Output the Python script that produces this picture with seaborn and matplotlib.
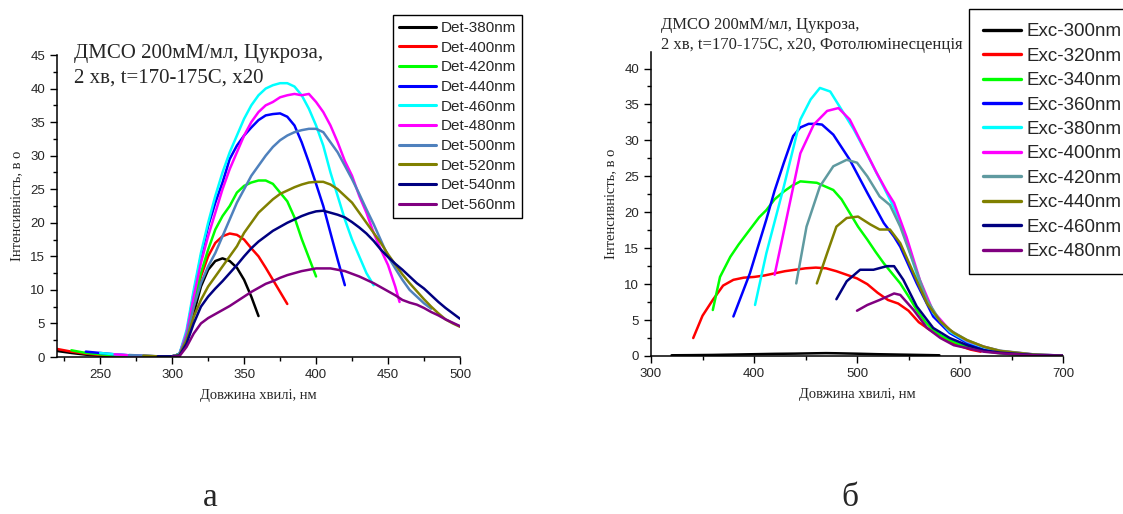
import seaborn as sns
import pandas as pd
import matplotlib.pyplot as plt
from matplotlib.lines import Line2D
from matplotlib.ticker import MultipleLocator

# ---- panel a: detection spectra ----
det_labels = ["Det-380nm", "Det-400nm", "Det-420nm", "Det-440nm", "Det-460nm",
              "Det-480nm", "Det-500nm", "Det-520nm", "Det-540nm", "Det-560nm"]
det_colors = ["#000000", "#ff0000", "#00ff00", "#0000ff", "#00ffff",
              "#ff00ff", "#4f81bd", "#808000", "#000080", "#800080"]

det380_x = [220, 230, 240, 250, 260, 270, 280, 290, 300, 305, 310, 315, 320, 325, 330, 335, 340, 345, 350, 355, 360]
det380_y = [0.9, 0.6, 0.35, 0.2, 0.1, 0.05, 0.05, 0.05, 0.1, 0.4, 2.5, 6.5, 10.5, 13, 14.3, 14.7, 14.3, 13.3, 11.5, 9, 6.1]

det400_x = [220, 230, 240, 250, 260, 270, 280, 290, 300, 305, 310, 315, 320, 325, 330, 335, 340, 345, 350, 355,
            360, 365, 370, 375, 380]
det400_y = [1.2, 0.8, 0.5, 0.3, 0.2, 0.1, 0.1, 0.1, 0.1, 0.4, 3, 7.5, 12, 15, 17, 18, 18.4, 18.2, 17.5, 16.2,
            15, 13.3, 11.5, 9.7, 7.9]

det420_x = [230, 240, 250, 260, 270, 280, 290, 300, 305, 310, 315, 320, 325, 330, 335, 340, 345, 350, 355, 360,
            365, 370, 375, 380, 385, 390, 395, 400]
det420_y = [1.0, 0.6, 0.4, 0.25, 0.15, 0.1, 0.1, 0.1, 0.4, 3, 8, 12.5, 16, 19, 21, 22.5, 24.5, 25.5, 26, 26.3,
            26.3, 25.8, 24.5, 23.2, 20.8, 17.6, 14.8, 12]

det440_x = [240, 250, 260, 270, 280, 290, 300, 305, 310, 315, 320, 325, 330, 335, 340, 345, 350, 355, 360, 365,
            370, 375, 380, 385, 390, 395, 400, 405, 410, 415, 420]
det440_y = [0.8, 0.6, 0.4, 0.25, 0.15, 0.1, 0.1, 0.4, 3.5, 9.5, 15, 19.5, 23, 26, 29.5, 31.5, 33, 34.2, 35.3, 36,
            36.2, 36.3, 35.8, 34.5, 32, 29, 25.8, 22.5, 18.5, 14.5, 10.7]

det460_x = [250, 260, 270, 280, 290, 300, 305, 310, 315, 320, 325, 330, 335, 340, 345, 350, 355, 360, 365, 370,
            375, 380, 385, 390, 395, 400, 405, 410, 415, 420, 425, 430, 435, 440]
det460_y = [0.6, 0.4, 0.25, 0.15, 0.1, 0.1, 0.4, 4, 10, 15.5, 20, 24, 27.5, 30.5, 33, 35.5, 37.5, 39, 40, 40.5,
            40.8, 40.8, 40.3, 39, 37, 34.5, 31.5, 27.5, 24, 20.5, 17.5, 15, 12.5, 10.7]

det480_x = [260, 270, 280, 290, 300, 305, 310, 315, 320, 325, 330, 335, 340, 345, 350, 355, 360, 365, 370, 375,
            380, 385, 390, 395, 400, 405, 410, 415, 420, 425, 430, 435, 440, 445, 450, 455, 458]
det480_y = [0.4, 0.25, 0.15, 0.1, 0.1, 0.3, 3.5, 9, 14, 18, 21.5, 25, 28, 30.5, 33, 35, 36.5, 37.5, 38, 38.7,
            39, 39.2, 39, 39.2, 38, 36.5, 34.5, 32, 29.2, 27, 24, 21.5, 18.5, 16, 13.7, 10.5, 8.2]

det500_x = [270, 280, 290, 300, 305, 310, 315, 320, 325, 330, 335, 340, 345, 350, 355, 360, 365, 370, 375, 380,
            385, 390, 395, 400, 405, 410, 415, 420, 425, 430, 435, 440, 445, 450, 455, 460, 465, 470, 475, 480]
det500_y = [0.3, 0.2, 0.1, 0.1, 0.3, 3, 7.5, 11, 13.5, 15.5, 18, 20.5, 23, 25, 27, 28.5, 30, 31.3, 32.3, 33,
            33.5, 33.8, 34, 34, 33.5, 32, 30.5, 28.5, 26.5, 24.3, 22, 19.8, 17.4, 15, 13.2, 11.5, 10, 9, 8, 7.2]

det520_x = [280, 290, 300, 305, 310, 315, 320, 325, 330, 335, 340, 345, 350, 355, 360, 365, 370, 375, 380, 385,
            390, 395, 400, 405, 410, 415, 420, 425, 430, 435, 440, 445, 450, 455, 460, 465, 470, 475, 480, 485,
            490, 495, 500]
det520_y = [0.2, 0.1, 0.1, 0.3, 2.5, 6, 8.5, 10.5, 12, 13.5, 15, 16.5, 18.5, 20, 21.5, 22.5, 23.5, 24.3, 24.8, 25.3,
            25.7, 26, 26.1, 26.1, 25.7, 25, 24, 23, 21.5, 20, 18.5, 17, 15.3, 13.8, 12.3, 11, 9.8, 8.6, 7.5, 6.5,
            5.6, 5, 4.5]

det540_x = [290, 300, 305, 310, 315, 320, 325, 330, 335, 340, 345, 350, 355, 360, 365, 370, 375, 380, 385, 390,
            395, 400, 405, 410, 415, 420, 425, 430, 435, 440, 445, 450, 455, 460, 465, 470, 475, 480, 485, 490,
            495, 500]
det540_y = [0.1, 0.1, 0.2, 2, 5, 7.5, 9, 10.2, 11.3, 12.5, 13.7, 15, 16.2, 17.2, 18, 18.8, 19.4, 20, 20.5, 21,
            21.4, 21.7, 21.8, 21.5, 21.2, 20.8, 20.1, 19.3, 18.4, 17.3, 16, 14.9, 13.9, 13, 12, 11, 10.2, 9.2, 8.2, 7.3,
            6.5, 5.7]

det560_x = [300, 305, 310, 315, 320, 325, 330, 335, 340, 345, 350, 355, 360, 365, 370, 375, 380, 385, 390, 395,
            400, 405, 410, 415, 420, 425, 430, 435, 440, 445, 450, 455, 460, 465, 470, 475, 480, 485, 490, 495, 500]
det560_y = [0.05, 0.1, 1.5, 3.5, 5, 5.8, 6.4, 7, 7.6, 8.3, 9, 9.7, 10.3, 10.9, 11.3, 11.8, 12.2, 12.5, 12.8, 13,
            13.2, 13.2, 13.2, 13, 12.8, 12.4, 12, 11.5, 11, 10.4, 9.8, 9.2, 8.5, 8.1, 7.8, 7.3, 6.7, 6.2, 5.6, 5.1, 4.6]

det_x = [det380_x, det400_x, det420_x, det440_x, det460_x, det480_x, det500_x, det520_x, det540_x, det560_x]
det_y = [det380_y, det400_y, det420_y, det440_y, det460_y, det480_y, det500_y, det520_y, det540_y, det560_y]

# ---- panel б: excitation spectra ----
exc_labels = ["Exc-300nm", "Exc-320nm", "Exc-340nm", "Exc-360nm", "Exc-380nm",
              "Exc-400nm", "Exc-420nm", "Exc-440nm", "Exc-460nm", "Exc-480nm"]
exc_colors = ["#000000", "#ff0000", "#00ff00", "#0000ff", "#00ffff",
              "#ff00ff", "#5f9aa0", "#808000", "#000080", "#800080"]

exc300_x = [320, 340, 360, 380, 400, 420, 440, 460, 470, 480, 500, 520, 540, 560, 580]
exc300_y = [0.1, 0.12, 0.15, 0.2, 0.25, 0.3, 0.33, 0.38, 0.4, 0.38, 0.32, 0.25, 0.2, 0.15, 0.1]

exc320_x = [341, 350, 360, 370, 380, 390, 400, 410, 420, 430, 440, 450, 460, 470, 480, 490, 500, 510, 520, 530,
            540, 550, 560, 570, 580, 590, 600, 610, 620]
exc320_y = [2.5, 5.6, 7.8, 9.8, 10.6, 10.9, 11, 11.2, 11.5, 11.8, 12, 12.2, 12.3, 12.2, 11.8, 11.3, 10.8, 10, 8.8, 7.8,
            7.3, 6.3, 4.7, 3.7, 2.8, 2, 1.4, 0.9, 0.6]

exc340_x = [360, 367, 377, 385, 396, 405, 412, 420, 429, 437, 445, 453, 461, 469, 477, 485, 493, 501, 510, 518,
            526, 534, 542, 550, 558, 566, 574, 582, 590, 600, 607, 615, 623, 639, 655, 671, 700]
exc340_y = [6.4, 11, 13.8, 15.5, 17.6, 19.3, 20.3, 21.8, 22.9, 23.7, 24.3, 24.2, 24.1, 23.6, 23.1, 21.8, 19.9, 18, 16.2, 14.5,
            12.9, 11.5, 10.1, 8.3, 6.4, 4.8, 3.6, 2.8, 2.2, 1.6, 1.3, 1.0, 0.7, 0.37, 0.2, 0.1, 0.03]

exc360_x = [380, 396, 412, 420, 429, 438, 445, 453, 460, 466, 477, 493, 510, 526, 536, 542, 558, 574, 590, 607,
            623, 639, 671, 700]
exc360_y = [5.5, 11.5, 19, 23, 26.9, 30.6, 31.8, 32.3, 32.3, 32.2, 30.8, 27.3, 22.7, 18.5, 16.6, 15.2, 10.1, 5.5, 3.2, 1.8,
            0.9, 0.46, 0.14, 0.05]

exc380_x = [401, 412, 429, 445, 455, 464, 474, 484, 497, 510, 526, 536, 548, 561, 574, 590, 607, 623, 639, 671, 700]
exc380_y = [7.1, 14.3, 23.6, 32.9, 35.7, 37.3, 36.8, 34.5, 31.5, 28, 23.5, 20.6, 16, 10, 6, 3.4, 2, 1.2, 0.6, 0.2, 0.05]

exc400_x = [420, 432, 445, 458, 471, 482, 493, 506, 519, 529, 536, 548, 561, 574, 590, 607, 623, 639, 671, 700]
exc400_y = [11.3, 19.4, 28.2, 32.2, 34.1, 34.5, 32.9, 29.2, 25.5, 22.9, 21.3, 16.6, 10.6, 6.2, 3.6, 2.1, 1.3, 0.7, 0.23, 0.05]

exc420_x = [441, 451, 464, 477, 490, 500, 510, 522, 532, 542, 555, 568, 581, 590, 607, 623, 639, 671, 700]
exc420_y = [10.1, 18, 23.6, 26.4, 27.3, 26.9, 25, 22.2, 21, 18, 12.9, 7.8, 4.8, 3.6, 2.2, 1.3, 0.74, 0.23, 0.05]

exc440_x = [461, 471, 480, 490, 501, 513, 522, 532, 542, 555, 568, 581, 594, 607, 623, 639, 671, 700]
exc440_y = [10.1, 14.3, 18, 19.2, 19.4, 18.3, 17.6, 17.6, 15.7, 11.5, 7.3, 4.8, 3.2, 2.2, 1.3, 0.7, 0.2, 0.05]

exc460_x = [480, 490, 503, 516, 529, 536, 545, 558, 574, 590, 607, 623, 639, 671, 700]
exc460_y = [7.9, 10.4, 12, 12, 12.5, 12.5, 10.6, 6.9, 3.9, 2.5, 1.5, 0.8, 0.46, 0.14, 0.04]

exc480_x = [500, 510, 522, 536, 542, 555, 568, 581, 594, 607, 623, 639, 671, 700]
exc480_y = [6.3, 7.1, 7.8, 8.7, 8.5, 6.4, 3.9, 2.5, 1.5, 1.1, 0.6, 0.37, 0.1, 0.03]

exc_x = [exc300_x, exc320_x, exc340_x, exc360_x, exc380_x, exc400_x, exc420_x, exc440_x, exc460_x, exc480_x]
exc_y = [exc300_y, exc320_y, exc340_y, exc360_y, exc380_y, exc400_y, exc420_y, exc440_y, exc460_y, exc480_y]


def to_frame(labels, xs, ys):
    rows = []
    for lab, xx, yy in zip(labels, xs, ys):
        for a, b in zip(xx, yy):
            rows.append((lab, a, b))
    return pd.DataFrame(rows, columns=["series", "wl", "val"])


sns.set_style("ticks")
plt.rcParams["font.family"] = ["Liberation Sans", "DejaVu Sans"]
SERIF = ["Liberation Serif", "DejaVu Serif"]

fig = plt.figure(figsize=(11.23, 5.14), dpi=100)
ax1 = fig.add_axes([57 / 1123, 1 - 357 / 514, 403 / 1123, 302 / 514])
ax2 = fig.add_axes([651 / 1123, 1 - 356 / 514, 412 / 1123, 304 / 514])

df_a = to_frame(det_labels, det_x, det_y)
df_b = to_frame(exc_labels, exc_x, exc_y)

sns.lineplot(data=df_a, x="wl", y="val", hue="series", hue_order=det_labels,
             palette=det_colors, estimator=None, sort=False, lw=1.8, legend=False, ax=ax1)
sns.lineplot(data=df_b, x="wl", y="val", hue="series", hue_order=exc_labels,
             palette=exc_colors, estimator=None, sort=False, lw=1.8, legend=False, ax=ax2)

ax1.set_xlim(220, 500)
ax1.set_ylim(0, 45)
ax1.xaxis.set_major_locator(MultipleLocator(50))
ax1.xaxis.set_minor_locator(MultipleLocator(25))
ax1.yaxis.set_major_locator(MultipleLocator(5))
ax1.yaxis.set_minor_locator(MultipleLocator(2.5))

ax2.set_xlim(300, 700)
ax2.set_ylim(0, 42.3)
ax2.xaxis.set_major_locator(MultipleLocator(100))
ax2.xaxis.set_minor_locator(MultipleLocator(50))
ax2.yaxis.set_major_locator(MultipleLocator(5))
ax2.yaxis.set_minor_locator(MultipleLocator(2.5))

for ax in (ax1, ax2):
    sns.despine(ax=ax)
    for s in ("left", "bottom"):
        ax.spines[s].set_linewidth(1.1)
        ax.spines[s].set_color("black")
    ax.tick_params(which="major", direction="out", length=5, width=1, labelsize=9.5, color="black")
    ax.tick_params(which="minor", direction="out", length=3, width=1, color="black")
    ax.set_xlabel("Довжина хвилі, нм", family=SERIF, fontsize=10.5, labelpad=6)
    ax.set_ylabel("Інтенсивність, в о", family=SERIF, fontsize=10.5, labelpad=5)

# annotations
fig.text(74 / 1123, 1 - 58 / 514, "ДМСО 200мМ/мл, Цукроза,", family=SERIF, fontsize=15, va="baseline")
fig.text(74 / 1123, 1 - 83 / 514, "2 хв, t=170-175С, x20", family=SERIF, fontsize=15, va="baseline")
fig.text(661 / 1123, 1 - 29 / 514, "ДМСО 200мМ/мл, Цукроза,", family=SERIF, fontsize=12, va="baseline")
fig.text(661 / 1123, 1 - 49 / 514, "2 хв, t=170-175С, x20, Фотолюмінесценція", family=SERIF, fontsize=12, va="baseline")

# legends
h_a = [Line2D([], [], color=c, lw=2.2) for c in det_colors]
leg1 = fig.legend(h_a, det_labels, loc="upper left", bbox_to_anchor=(393 / 1123, 1 - 15 / 514),
                  fontsize=11, frameon=True, fancybox=False, edgecolor="black", framealpha=1,
                  handlelength=2.4, labelspacing=0.37, borderpad=0.4, handletextpad=0.3, borderaxespad=0)
leg1.get_frame().set_linewidth(1)

h_b = [Line2D([], [], color=c, lw=2.4) for c in exc_colors]
leg2 = fig.legend(h_b, exc_labels, loc="upper left", bbox_to_anchor=(969 / 1123, 1 - 9 / 514),
                  fontsize=13.5, frameon=True, fancybox=False, edgecolor="black", framealpha=1,
                  handlelength=2.0, labelspacing=0.39, borderpad=0.75, handletextpad=0.3, borderaxespad=0)
leg2.get_frame().set_linewidth(1)

# panel letters
fig.text(210 / 1123, 1 - 506 / 514, "а", family=SERIF, fontsize=24, ha="center", va="baseline")
fig.text(850 / 1123, 1 - 506 / 514, "б", family=SERIF, fontsize=24, ha="center", va="baseline")

fig.savefig("out.png", dpi=100)
